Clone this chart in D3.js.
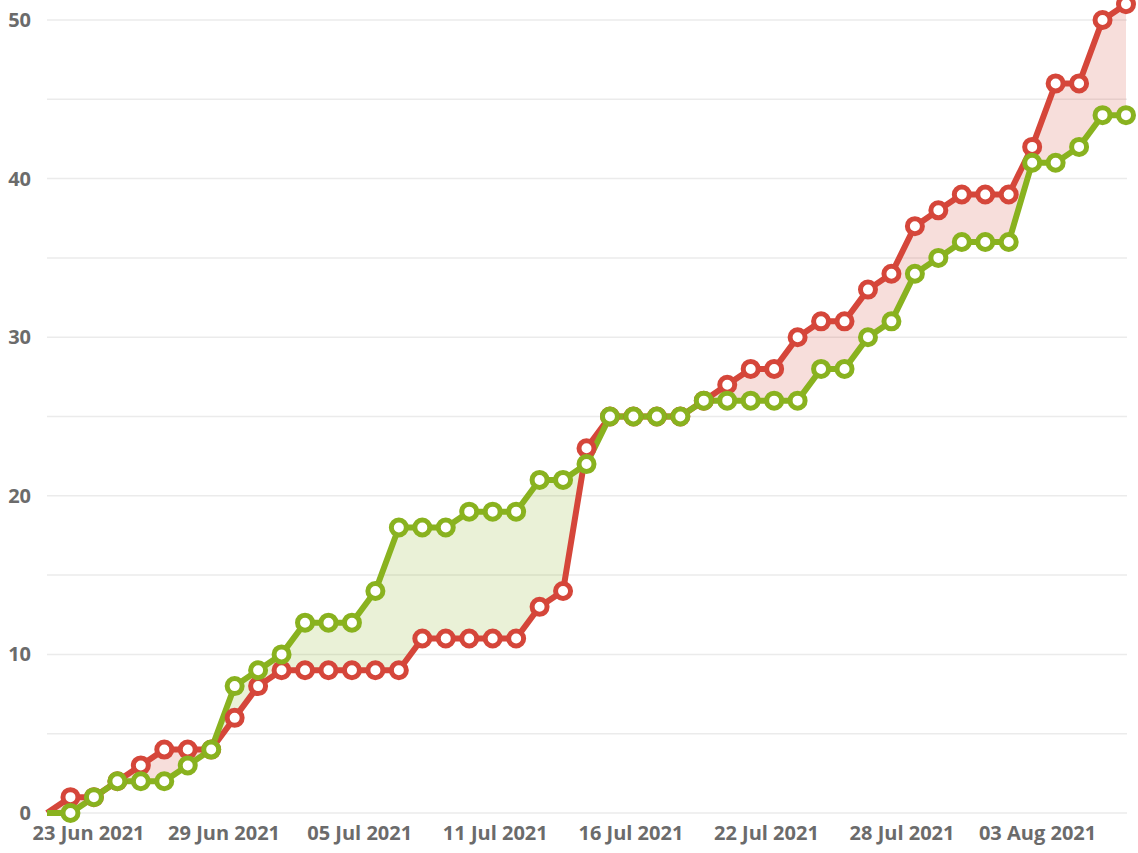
<!DOCTYPE html>
<html>
<head>
<meta charset="utf-8">
<script src="https://cdn.jsdelivr.net/npm/d3@7"></script>
<style>
  body { margin: 0; background: #fff; }
  text { font-family: "Open Sans", sans-serif; }
</style>
</head>
<body>
<div id="chart"></div>
<script>
// data: one value per day, starting at firstDay
const firstDay = "2021-06-22"
const redValues = [0, 1, 1, 2, 3, 4, 4, 4, 6, 8, 9, 9, 9, 9, 9, 9, 11, 11, 11, 11, 11, 13, 14, 23,
  25, 25, 25, 25, 26, 27, 28, 28, 30, 31, 31, 33, 34, 37, 38, 39, 39, 39, 42, 46, 46, 50, 51]
const greenValues = [0, 0, 1, 2, 2, 2, 3, 4, 8, 9, 10, 12, 12, 12, 14, 18, 18, 18, 19, 19, 19, 21, 21, 22,
  25, 25, 25, 25, 26, 26, 26, 26, 26, 28, 28, 30, 31, 34, 35, 36, 36, 36, 41, 41, 42, 44, 44]
const yTicks = [0, 10, 20, 30, 40, 50]
const yGrid = [0, 5, 10, 15, 20, 25, 30, 35, 40, 45, 50]
const xTicks = ["2021-06-23T18:00", "2021-06-29T12:40", "2021-07-05T07:25", "2021-07-11T02:10",
  "2021-07-16T20:55", "2021-07-22T15:35", "2021-07-28T10:20", "2021-08-03T05:00"]

// ----------------------------------------------------------
const width = 1138
const height = 853
const margin = {top: 20, bottom: 40, left: 47, right: 12}

const redColor = "#d5463a"
const greenColor = "#89b21f"

const parseDay = d3.timeParse("%Y-%m-%d")
const parseTick = d3.timeParse("%Y-%m-%dT%H:%M")
const start = parseDay(firstDay)

const data = redValues.map((v, i) => ({date: d3.timeDay.offset(start, i), red: v, green: greenValues[i]}))

const svg = d3.select("div#chart").append("svg").attr("width", width).attr("height", height)

const x = d3.scaleTime()
  .domain(d3.extent(data, d => d.date))
  .range([margin.left, width - margin.right])
const y = d3.scaleLinear()
  .domain([0, 50])
  .range([height - margin.bottom, margin.top])

// grid
svg.append("g").attr("id", "grid")
  .selectAll("line").data(yGrid).enter().append("line")
  .attr("x1", margin.left)
  .attr("x2", width - margin.right + 1)
  .attr("y1", d => y(d))
  .attr("y2", d => y(d))
  .attr("stroke", "#ebebeb")
  .attr("stroke-width", 1.5)

// y axis labels
const yAxis = d3.axisLeft(y).tickValues(yTicks).tickSize(0).tickPadding(0)
svg.append("g").attr("id", "yAxisGroup")
  .attr("transform", `translate(31, 0)`)
  .call(yAxis)
  .call(g => g.select(".domain").remove())
  .selectAll("text")
  .attr("fill", "#6b6b6b")
  .style("font-size", "20px")
  .style("font-weight", "700")

// x axis labels
const xAxis = d3.axisBottom(x)
  .tickValues(xTicks.map(parseTick))
  .tickFormat(d3.timeFormat("%d %b %Y"))
  .tickSize(0)
  .tickPadding(0)
svg.append("g").attr("id", "xAxisGroup")
  .attr("transform", `translate(0, ${height - margin.bottom + 13})`)
  .call(xAxis)
  .call(g => g.select(".domain").remove())
  .selectAll("text")
  .attr("fill", "#6b6b6b")
  .style("font-size", "20px")
  .style("font-weight", "700")

// difference fill between the two series
const defs = svg.append("defs")
defs.append("clipPath").attr("id", "clipAboveRed")
  .append("path").datum(data)
  .attr("d", d3.area().x(d => x(d.date)).y0(0).y1(d => y(d.red)))
defs.append("clipPath").attr("id", "clipBelowRed")
  .append("path").datum(data)
  .attr("d", d3.area().x(d => x(d.date)).y0(height).y1(d => y(d.red)))

const between = d3.area()
  .x(d => x(d.date))
  .y0(d => y(d.red))
  .y1(d => y(d.green))

const fillGroup = svg.append("g").attr("id", "fillGroup")
fillGroup.append("path").datum(data)
  .attr("clip-path", "url(#clipAboveRed)")
  .attr("d", between)
  .attr("fill", greenColor)
  .attr("fill-opacity", 0.18)
fillGroup.append("path").datum(data)
  .attr("clip-path", "url(#clipBelowRed)")
  .attr("d", between)
  .attr("fill", redColor)
  .attr("fill-opacity", 0.18)

// lines
const lineGroup = svg.append("g").attr("id", "lineGroup")
const series = [{key: "red", color: redColor}, {key: "green", color: greenColor}]
series.forEach(s => {
  lineGroup.append("path").datum(data)
    .attr("d", d3.line().x(d => x(d.date)).y(d => y(d[s.key])))
    .attr("fill", "none")
    .attr("stroke", s.color)
    .attr("stroke-width", 6)
    .attr("stroke-linejoin", "round")
})

// markers (the first day sits on the plot edge and has none)
const markerGroup = svg.append("g").attr("id", "markerGroup")
series.forEach(s => {
  markerGroup.append("g")
    .selectAll("circle").data(data.slice(1)).enter().append("circle")
    .attr("cx", d => x(d.date))
    .attr("cy", d => y(d[s.key]))
    .attr("r", 7.5)
    .attr("fill", "#fff")
    .attr("stroke", s.color)
    .attr("stroke-width", 5)
})
</script>
</body>
</html>
